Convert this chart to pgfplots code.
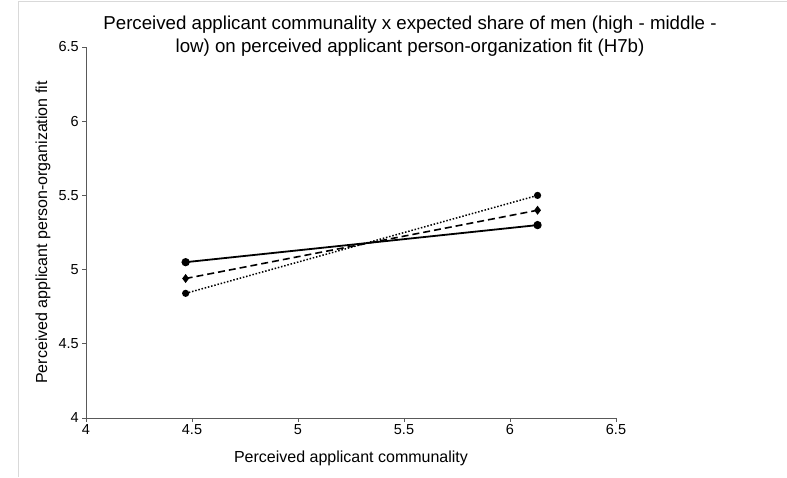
\documentclass[border=0pt]{standalone}
\usepackage{pgfplots}
\pgfplotsset{compat=1.18}
\usepackage{fontspec}
\setmainfont{Liberation Sans}
\begin{document}
\begin{tikzpicture}[x=1pt,y=1pt]
\useasboundingbox (0,0) rectangle (787,477);
\draw[black!15, line width=1pt] (18,0) -- (18,475) -- (787,475);
\node[anchor=base, font=\fontsize{18.7}{22}\selectfont, inner sep=0pt] at (410,447) {Perceived applicant communality x expected share of men (high - middle -};
\node[anchor=base, font=\fontsize{18.7}{22}\selectfont, inner sep=0pt] at (410,424.5) {low) on perceived applicant person-organization fit (H7b)};
\begin{axis}[
  at={(86pt,59pt)}, anchor=south west,
  width=530pt, height=371pt, scale only axis,
  xmin=4, xmax=6.5, ymin=4, ymax=6.5,
  axis lines=left,
  axis line style={-, black!65, line width=0.8pt},
  xtick={4,4.5,5,5.5,6,6.5},
  ytick={4,4.5,5,5.5,6,6.5},
  tick style={black!65, line width=0.8pt},
  tick align=outside,
  major tick length=4pt,
  tick label style={font=\fontsize{14.5}{16}\selectfont},
  xticklabel style={inner sep=2.5pt},
  yticklabel style={inner sep=3pt},
  /pgf/number format/assume math mode=true,
  xlabel={Perceived applicant communality},
  ylabel={Perceived applicant person-organization fit},
  label style={font=\fontsize{16}{19}\selectfont},
  xlabel style={at={(axis description cs:0.5,-0.108)}, anchor=center},
  ylabel style={at={(axis description cs:-0.081,0.5)}, anchor=center},
  clip=false,
]
\addplot[black, line width=1.8pt, mark=*, mark size=3.2pt] coordinates {(4.47,5.05) (6.13,5.30)};
\addplot[black, line width=1.6pt, dash pattern=on 7pt off 4pt, mark=diamond*, mark size=3.2pt, mark options={solid}] coordinates {(4.47,4.94) (6.13,5.40)};
\addplot[black, line width=1.5pt, dash pattern=on 1.5pt off 1.8pt, mark=*, mark size=2.8pt, mark options={solid}] coordinates {(4.47,4.84) (6.13,5.50)};
\end{axis}
\end{tikzpicture}
\end{document}
